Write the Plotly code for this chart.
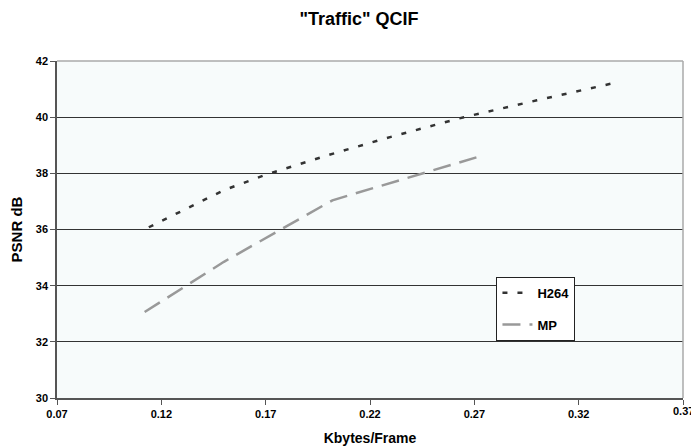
import plotly.graph_objects as go

h264_x = [0.114, 0.150, 0.170, 0.200, 0.230, 0.265, 0.300, 0.339]
h264_y = [36.08, 37.40, 37.95, 38.65, 39.30, 40.00, 40.60, 41.25]
mp_x = [0.112, 0.150, 0.202, 0.271]
mp_y = [33.06, 34.85, 37.04, 38.57]

x_ticks = [0.07, 0.12, 0.17, 0.22, 0.27, 0.32, 0.37]
y_ticks = [30, 32, 34, 36, 38, 40, 42]

FONT = "Liberation Sans, Arial, sans-serif"

fig = go.Figure()
fig.add_trace(go.Scatter(x=h264_x, y=h264_y, mode="lines", name="<b>H264</b>",
                         line=dict(color="#333333", width=2.5, dash="5px,10px"),
                         legendgroup="a"))
fig.add_trace(go.Scatter(x=mp_x, y=mp_y, mode="lines", name="<b>MP</b>",
                         line=dict(color="#999999", width=2.5, dash="18px,9px"),
                         legendgroup="b"))

fig.update_layout(
    width=691, height=446,
    margin=dict(l=57, r=8, t=61, b=48),
    paper_bgcolor="white",
    plot_bgcolor="#F7FBFB",
    font=dict(family=FONT, color="black", size=11),
    title=dict(text='<b>"Traffic" QCIF</b>', x=359 / 691, xanchor="center",
               y=1 - 19 / 446, yanchor="middle",
               font=dict(family=FONT, size=18, color="black")),
    showlegend=True,
    legend=dict(x=0.702, y=0.36, xanchor="left", yanchor="top",
                bgcolor="white", bordercolor="#222222", borderwidth=1,
                font=dict(family=FONT, size=13, color="black"),
                tracegroupgap=12, itemwidth=30),
    xaxis=dict(range=[0.07, 0.37], tickvals=x_ticks,
               ticktext=["<b>%.2f</b>" % v for v in x_ticks],
               showgrid=False, zeroline=False, automargin=False,
               showline=True, linecolor="#555555", linewidth=1.5,
               ticks="outside", ticklen=5, tickcolor="#555555",
               tickfont=dict(family=FONT, size=11),
               title=dict(text="<b>Kbytes/Frame</b>", standoff=15,
                          font=dict(family=FONT, size=14))),
    yaxis=dict(range=[30, 42], tickvals=y_ticks,
               ticktext=["<b>%d</b>" % v for v in y_ticks],
               showgrid=True, gridcolor="#333333", gridwidth=1,
               zeroline=False, automargin=False,
               showline=True, linecolor="#555555", linewidth=1.5,
               ticks="outside", ticklen=5, tickcolor="#555555",
               tickfont=dict(family=FONT, size=11),
               title=dict(text="<b>PSNR dB</b>", standoff=10,
                          font=dict(family=FONT, size=15))),
    shapes=[
        dict(type="line", xref="paper", yref="paper", x0=0, x1=1, y0=1, y1=1,
             line=dict(color="#AAAAAA", width=1.5)),
        dict(type="line", xref="paper", yref="paper", x0=1, x1=1, y0=0, y1=1,
             line=dict(color="#AAAAAA", width=1.5)),
    ],
    annotations=[
        dict(x=x_ticks[-1], xref="x", y=0, yref="paper", yshift=-13,
             text="<b>%.2f</b>" % x_ticks[-1], showarrow=False,
             xanchor="center", yanchor="middle",
             font=dict(family=FONT, size=11, color="black")),
    ],
)

fig.write_html("out.html")
